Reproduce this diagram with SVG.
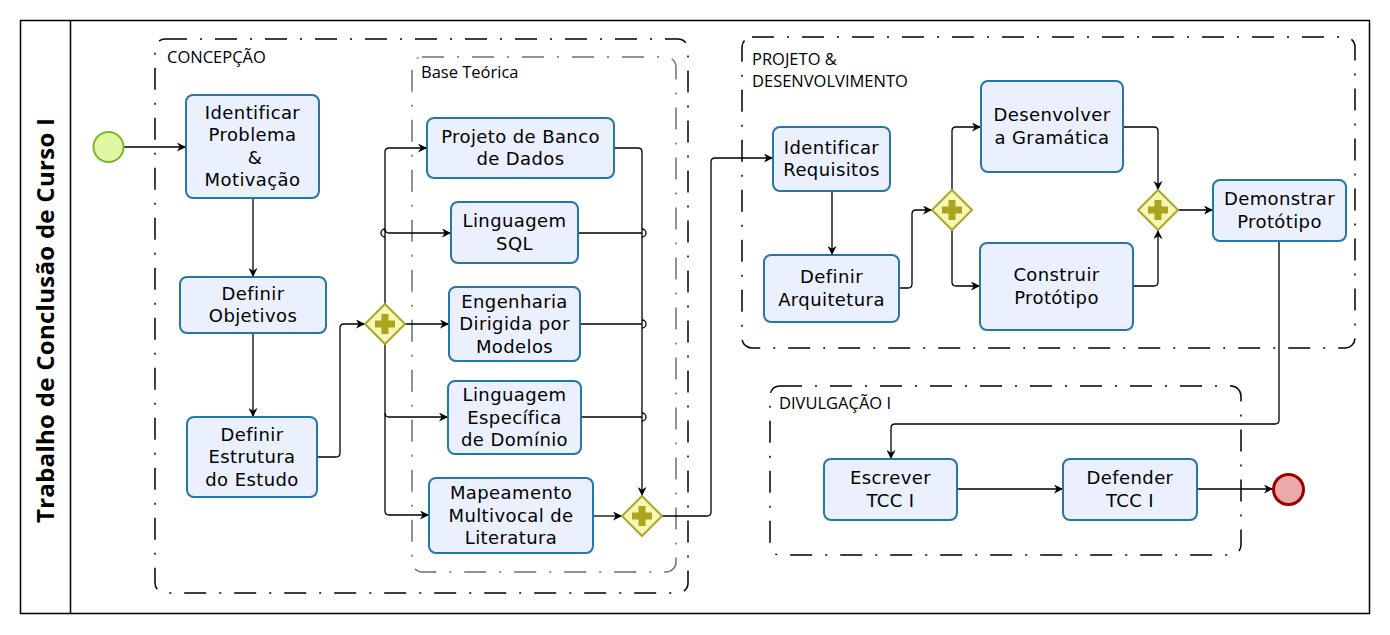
<svg xmlns="http://www.w3.org/2000/svg" width="1390" height="635" viewBox="0 0 1390 635">
<defs>
<marker id="arr" viewBox="0 0 10 10" refX="10" refY="5" markerWidth="9" markerHeight="9" markerUnits="userSpaceOnUse" orient="auto">
<path d="M0,0 L10,5 L0,10 L3,5 z" fill="#000"/>
</marker>
<g id="plus"><path d="M-3.5,-10 h7 v6.5 h6.5 v7 h-6.5 v6.5 h-7 v-6.5 h-6.5 v-7 h6.5 z" fill="#a9a51c"/></g>
</defs>
<style>
.task{fill:#eaf0fd;stroke:#2677a8;stroke-width:2}
.t{font-family:"DejaVu Sans",Verdana,sans-serif;font-size:18px;fill:#000;text-anchor:middle;letter-spacing:0.4px}
.grp{fill:none;stroke:#000;stroke-width:1.5;stroke-dasharray:22,13,2,13}
.grp2{fill:none;stroke:#6e6e6e;stroke-width:1.5;stroke-dasharray:22,13,2,13}
.gl{font-family:"Open Sans","Liberation Sans",sans-serif;font-size:16.5px;fill:#000}
.gw{fill:#f6f6b6;stroke:#a8a82a;stroke-width:2}
.c{fill:none;stroke:#000;stroke-width:1.3}
.ca{fill:none;stroke:#000;stroke-width:1.3;marker-end:url(#arr)}
</style>
<rect x="0" y="0" width="1390" height="635" fill="#fff"/>
<g id="pool">
<rect x="20.5" y="20.5" width="1349" height="593" fill="#fff" stroke="#000" stroke-width="1.5"/>
<line x1="70.5" y1="20.5" x2="70.5" y2="613.5" stroke="#000" stroke-width="1.5"/>
<text transform="translate(54,320.5) rotate(-90)" text-anchor="middle" font-family="Open Sans, Liberation Sans, sans-serif" font-weight="bold" font-size="24px" textLength="405" lengthAdjust="spacing">Trabalho de Conclusão de Curso I</text>
</g>
<g id="groups">
<g id="concepcao"><rect class="grp" x="155" y="39" width="533" height="554" rx="10"/><text class="gl" x="167" y="63">CONCEPÇÃO</text></g>
<g id="base-teorica"><rect class="grp2" x="412" y="57" width="264" height="515" rx="10"/><text class="gl" x="421" y="78" font-size="16px">Base Teórica</text></g>
<g id="projeto"><rect class="grp" x="742" y="37" width="613" height="311" rx="10"/><text class="gl" x="752" y="65">PROJETO &amp;</text><text class="gl" x="752" y="87">DESENVOLVIMENTO</text></g>
<g id="divulgacao"><rect class="grp" x="770" y="386" width="471" height="169" rx="10"/><text class="gl" x="779" y="409">DIVULGAÇÃO I</text></g>
</g>
<g id="connectors">
<path class="ca" d="M124,147 H186"/>
<path class="ca" d="M253,198 V277"/>
<path class="ca" d="M253,333 V417"/>
<path class="ca" d="M317,457 H336 Q340,457 340,453 V328 Q340,324 344,324 H365"/>
<path class="ca" d="M385,304 V152 Q385,148 389,148 H427"/>
<path class="c" d="M385,237 A4,4 0 0 1 385,229"/>
<path class="ca" d="M385,229 Q385,233 389,233 H451"/>
<path class="ca" d="M405,324 H449"/>
<path class="ca" d="M385,344 V511 Q385,515 389,515 H429"/>
<path class="ca" d="M385,413 Q385,417 389,417 H448"/>
<path class="ca" d="M614,148 H638 Q642,148 642,152 V496"/>
<path class="c" d="M578,233 H642 M642,229 A4,4 0 0 1 642,237"/>
<path class="c" d="M580,324 H642 M642,320 A4,4 0 0 1 642,328"/>
<path class="c" d="M581,417 H642 M642,413 A4,4 0 0 1 642,421"/>
<path class="ca" d="M593,516 H622"/>
<path class="ca" d="M662,516 H707 Q711,516 711,512 V162 Q711,158 715,158 H773"/>
<path class="ca" d="M832,191 V255"/>
<path class="ca" d="M899,288 H908 Q912,288 912,284 V214 Q912,210 916,210 H932"/>
<path class="ca" d="M952,190 V131 Q952,127 956,127 H981"/>
<path class="ca" d="M952,230 V282 Q952,286 956,286 H980"/>
<path class="ca" d="M1123,127 H1154 Q1158,127 1158,131 V190"/>
<path class="ca" d="M1133,286 H1154 Q1158,286 1158,282 V230"/>
<path class="ca" d="M1178,210 H1213"/>
<path class="ca" d="M1279,241 V420 Q1279,424 1275,424 H895 Q891,424 891,428 V459"/>
<path class="ca" d="M957,489 H1063"/>
<path class="ca" d="M1197,489 H1273"/>
</g>
<g id="start"><circle cx="108.5" cy="147" r="15" fill="#e2f7a1" stroke="#7ab52a" stroke-width="2"/></g>
<g id="end"><circle cx="1288.5" cy="489.5" r="15" fill="#eba9a9" stroke="#9b0000" stroke-width="3"/></g>
<g id="t-identificar-problema"><rect class="task" x="186" y="95" width="133" height="103" rx="7"/><text class="t" x="252.5" y="118.5">Identificar<tspan x="252.5" dy="22.5">Problema</tspan><tspan x="255" dy="22.5">&amp;</tspan><tspan x="252.5" dy="22.5">Motivação</tspan></text></g>
<g id="t-objetivos"><rect class="task" x="180" y="277" width="146" height="56" rx="7"/><text class="t" x="253" y="299.75">Definir<tspan x="253" dy="22.5">Objetivos</tspan></text></g>
<g id="t-estrutura"><rect class="task" x="187" y="417" width="130" height="80" rx="7"/><text class="t" x="252" y="440.5">Definir<tspan x="252" dy="22.5">Estrutura</tspan><tspan x="252" dy="22.5">do Estudo</tspan></text></g>
<g id="gw1"><path class="gw" d="M385,304 L405,324 L385,344 L365,324 Z"/><use href="#plus" x="385" y="324"/></g>
<g id="t-banco"><rect class="task" x="427" y="118" width="187" height="60" rx="7"/><text class="t" x="520.5" y="142.75">Projeto de Banco<tspan x="520.5" dy="22.5">de Dados</tspan></text></g>
<g id="t-sql"><rect class="task" x="451" y="202" width="127" height="61" rx="7"/><text class="t" x="514.5" y="227.25">Linguagem<tspan x="514.5" dy="22.5">SQL</tspan></text></g>
<g id="t-engenharia"><rect class="task" x="449" y="287" width="131" height="74" rx="7"/><text class="t" x="514.5" y="307.5">Engenharia<tspan x="514.5" dy="22.5">Dirigida por</tspan><tspan x="514.5" dy="22.5">Modelos</tspan></text></g>
<g id="t-led"><rect class="task" x="448" y="381" width="133" height="73" rx="7"/><text class="t" x="514.5" y="401">Linguagem<tspan x="514.5" dy="22.5">Específica</tspan><tspan x="514.5" dy="22.5">de Domínio</tspan></text></g>
<g id="t-mapeamento"><rect class="task" x="429" y="478" width="164" height="75" rx="7"/><text class="t" x="511" y="499">Mapeamento<tspan x="511" dy="22.5">Multivocal de</tspan><tspan x="511" dy="22.5">Literatura</tspan></text></g>
<g id="gw2"><path class="gw" d="M642,496 L662,516 L642,536 L622,516 Z"/><use href="#plus" x="642" y="516"/></g>
<g id="t-requisitos"><rect class="task" x="773" y="127" width="117" height="64" rx="7"/><text class="t" x="831.5" y="153.75">Identificar<tspan x="831.5" dy="22.5">Requisitos</tspan></text></g>
<g id="t-arquitetura"><rect class="task" x="764" y="255" width="135" height="67" rx="7"/><text class="t" x="831.5" y="283.25">Definir<tspan x="831.5" dy="22.5">Arquitetura</tspan></text></g>
<g id="gw3"><path class="gw" d="M952,190 L972,210 L952,230 L932,210 Z"/><use href="#plus" x="952" y="210"/></g>
<g id="t-gramatica"><rect class="task" x="981" y="81" width="142" height="91" rx="7"/><text class="t" x="1052" y="121.25">Desenvolver<tspan x="1052" dy="22.5">a Gramática</tspan></text></g>
<g id="t-construir"><rect class="task" x="980" y="243" width="153" height="87" rx="7"/><text class="t" x="1056.5" y="281.25">Construir<tspan x="1056.5" dy="22.5">Protótipo</tspan></text></g>
<g id="gw4"><path class="gw" d="M1158,190 L1178,210 L1158,230 L1138,210 Z"/><use href="#plus" x="1158" y="210"/></g>
<g id="t-demonstrar"><rect class="task" x="1213" y="180" width="133" height="61" rx="7"/><text class="t" x="1279.5" y="205.25">Demonstrar<tspan x="1279.5" dy="22.5">Protótipo</tspan></text></g>
<g id="t-escrever"><rect class="task" x="824" y="459" width="133" height="61" rx="7"/><text class="t" x="890.5" y="484.25">Escrever<tspan x="890.5" dy="22.5">TCC I</tspan></text></g>
<g id="t-defender"><rect class="task" x="1063" y="459" width="134" height="61" rx="7"/><text class="t" x="1130" y="484.25">Defender<tspan x="1130" dy="22.5">TCC I</tspan></text></g>
</svg>
